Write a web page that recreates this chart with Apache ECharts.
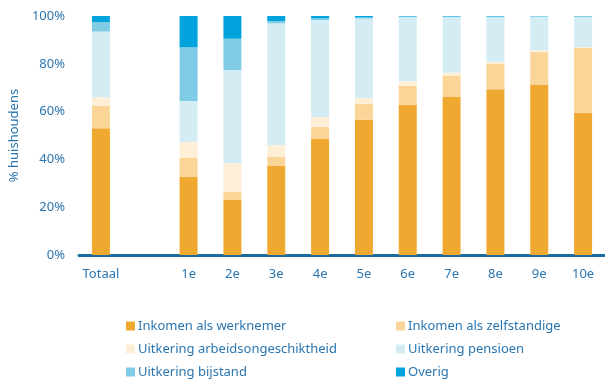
<!DOCTYPE html>
<html>
<head>
<meta charset="utf-8">
<script src="https://cdn.jsdelivr.net/npm/echarts@6/dist/echarts.min.js"></script>
<style>
  html, body { margin: 0; padding: 0; background: #fff; }
  #chart { width: 605px; height: 379px; }
</style>
</head>
<body>
<div id="chart"></div>
<script>
// categorieen (lege plek tussen Totaal en de decielen)
var categories = ["Totaal", "", "1e", "2e", "3e", "4e", "5e", "6e", "7e", "8e", "9e", "10e"];
var yTicks = [0, 20, 40, 60, 80, 100];

// aandeel huishoudens per inkomensbron (%)
var werknemer     = [53.0, null, 32.6, 23.0, 37.2, 48.5, 56.6, 62.8, 66.1, 69.3, 71.3, 59.5];
var zelfstandige  = [ 9.5, null,  8.0,  3.4,  3.8,  5.1,  6.7,  7.9,  8.8, 10.6, 13.6, 27.1];
var arbeidsongesch= [ 3.5, null,  6.6, 12.0,  4.9,  4.0,  2.5,  2.0,  1.4,  0.9,  0.7,  0.4];
var pensioen      = [27.5, null, 17.2, 39.0, 51.0, 40.7, 33.1, 26.8, 23.2, 18.7, 14.1, 12.6];
var bijstand      = [ 4.0, null, 22.5, 13.1,  1.0,  0.7,  0.5,  0.3,  0.3,  0.3,  0.2,  0.3];
var overig        = [ 2.5, null, 13.1,  9.5,  2.1,  1.0,  0.6,  0.2,  0.2,  0.2,  0.1,  0.1];

var names = ["Inkomen als werknemer", "Inkomen als zelfstandige", "Uitkering arbeidsongeschiktheid",
             "Uitkering pensioen", "Uitkering bijstand", "Overig"];
var colors = ["#EFA830", "#FBD597", "#FEEFD6", "#D4EDF4", "#80CCE7", "#00A3DB"];
var values = [werknemer, zelfstandige, arbeidsongesch, pensioen, bijstand, overig];

var blauw = "#2A76B0";
var font = "'Noto Sans', sans-serif";

var chart = echarts.init(document.getElementById("chart"));

var series = names.map(function (n, i) {
  return {
    name: n,
    type: "bar",
    stack: "totaal",
    barWidth: 18,
    data: values[i],
    itemStyle: { color: colors[i] }
  };
});

// legenda: twee kolommen, drie rijen, een legend per item
var legends = names.map(function (n, i) {
  return {
    data: [n],
    left: i % 2 === 0 ? 126 : 396,
    top: 319 + Math.floor(i / 2) * 23,
    padding: 0,
    itemWidth: 9,
    itemHeight: 9,
    icon: "rect",
    selectedMode: false,
    textStyle: { color: blauw, fontSize: 13, fontFamily: font, lineHeight: 14, padding: [0, 0, 0, -2] }
  };
});

chart.setOption({
  animation: false,
  color: colors,
  grid: { left: 79, top: 16, width: 530, height: 239 },
  legend: legends,
  xAxis: {
    type: "category",
    data: categories,
    axisLine: { lineStyle: { color: "#1A6C9F", width: 3 } },
    axisTick: { show: false },
    axisLabel: { interval: 0, color: blauw, fontSize: 13, fontFamily: font, margin: 13 }
  },
  yAxis: {
    type: "value",
    min: yTicks[0],
    max: yTicks[yTicks.length - 1],
    interval: 20,
    name: "% huishoudens",
    nameLocation: "middle",
    nameRotate: 90,
    nameGap: 58,
    nameTextStyle: { color: blauw, fontSize: 13, fontFamily: font },
    axisLine: { show: false },
    axisTick: { show: false },
    splitLine: { show: false },
    axisLabel: { color: blauw, fontSize: 13, fontFamily: font, margin: 14, formatter: "{value}%" }
  },
  series: series
});
</script>
</body>
</html>
